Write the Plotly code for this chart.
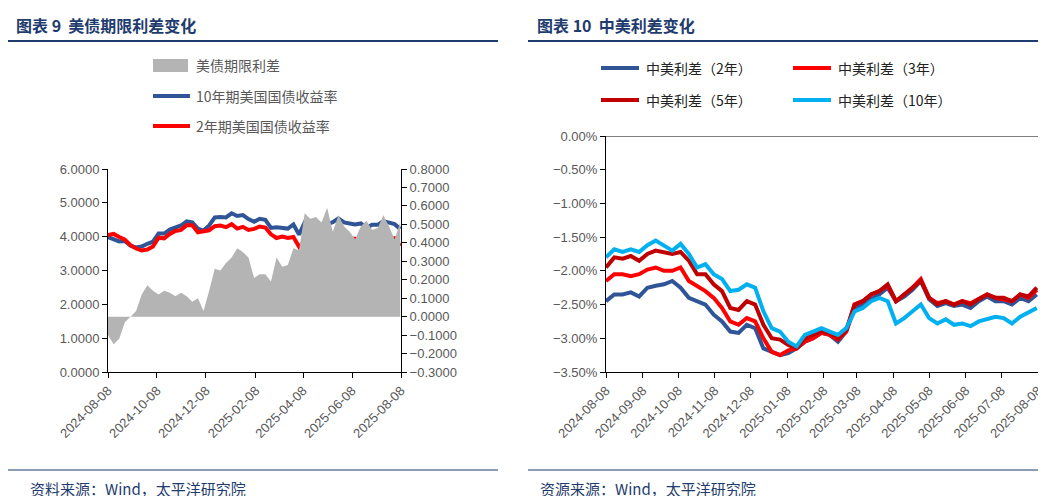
import pandas as pd
import plotly.graph_objects as go

dates = pd.date_range("2024-08-08", periods=53, freq="7D")
us10 = [3.99,3.91,3.86,3.87,3.73,3.68,3.71,3.79,3.85,4.09,4.09,4.21,4.28,4.33,4.45,4.42,4.24,4.18,4.33,4.57,4.58,4.57,4.69,4.61,4.64,4.52,4.44,4.53,4.50,4.26,4.28,4.27,4.24,4.36,4.06,4.42,4.33,4.32,4.22,4.37,4.43,4.54,4.42,4.39,4.36,4.39,4.26,4.35,4.35,4.46,4.40,4.37,4.23]
us2 = [4.05,4.08,3.99,3.91,3.75,3.65,3.59,3.62,3.71,3.97,3.95,4.08,4.17,4.20,4.34,4.34,4.13,4.15,4.19,4.31,4.33,4.28,4.37,4.24,4.29,4.20,4.23,4.30,4.27,4.07,3.96,4.00,3.96,3.99,3.70,3.86,3.80,3.78,3.71,3.78,3.97,3.99,3.93,3.93,3.94,3.90,3.74,3.88,3.87,3.91,3.91,3.95,3.72]
term_spread = [-0.10,-0.15,-0.12,-0.03,0.0,0.03,0.12,0.17,0.14,0.12,0.14,0.13,0.11,0.13,0.11,0.08,0.10,0.03,0.14,0.26,0.25,0.29,0.32,0.37,0.35,0.32,0.21,0.23,0.23,0.19,0.32,0.27,0.28,0.37,0.36,0.56,0.53,0.54,0.51,0.59,0.46,0.55,0.49,0.46,0.42,0.49,0.52,0.47,0.48,0.55,0.49,0.42,0.51]

cn_us10 = [-1.80,-1.68,-1.72,-1.68,-1.72,-1.62,-1.55,-1.62,-1.70,-1.60,-1.75,-1.95,-1.90,-2.05,-2.12,-2.30,-2.28,-2.20,-2.25,-2.60,-2.85,-2.90,-3.05,-3.12,-2.95,-2.90,-2.85,-2.90,-2.95,-2.85,-2.60,-2.55,-2.45,-2.40,-2.45,-2.78,-2.70,-2.60,-2.50,-2.70,-2.78,-2.72,-2.80,-2.78,-2.82,-2.75,-2.72,-2.68,-2.70,-2.78,-2.68,-2.62,-2.55]
cn_us5 = [-1.95,-1.80,-1.82,-1.78,-1.85,-1.75,-1.70,-1.72,-1.75,-1.72,-1.85,-2.05,-2.05,-2.20,-2.30,-2.55,-2.58,-2.45,-2.50,-2.80,-3.00,-3.02,-3.10,-3.15,-3.00,-2.95,-2.90,-2.92,-3.00,-2.88,-2.50,-2.45,-2.35,-2.30,-2.20,-2.45,-2.35,-2.25,-2.15,-2.40,-2.50,-2.45,-2.50,-2.45,-2.50,-2.42,-2.35,-2.40,-2.40,-2.45,-2.35,-2.38,-2.25]
cn_us3 = [-2.15,-2.05,-2.05,-2.08,-2.05,-1.98,-1.95,-2.00,-2.00,-1.95,-2.15,-2.22,-2.30,-2.40,-2.55,-2.75,-2.80,-2.70,-2.75,-3.00,-3.20,-3.25,-3.18,-3.15,-3.05,-3.00,-2.92,-2.95,-3.02,-2.90,-2.50,-2.45,-2.35,-2.30,-2.22,-2.45,-2.35,-2.25,-2.12,-2.40,-2.48,-2.45,-2.50,-2.45,-2.48,-2.42,-2.35,-2.40,-2.42,-2.45,-2.35,-2.40,-2.28]
cn_us2 = [-2.45,-2.35,-2.35,-2.32,-2.38,-2.25,-2.22,-2.20,-2.15,-2.25,-2.40,-2.45,-2.50,-2.65,-2.75,-2.90,-2.92,-2.80,-2.85,-3.15,-3.20,-3.25,-3.22,-3.15,-3.05,-3.00,-2.92,-2.95,-3.05,-2.90,-2.55,-2.50,-2.42,-2.35,-2.25,-2.45,-2.38,-2.28,-2.15,-2.42,-2.52,-2.48,-2.52,-2.50,-2.55,-2.45,-2.38,-2.45,-2.45,-2.50,-2.40,-2.45,-2.35]

left_ticks = ["2024-08-08","2024-10-08","2024-12-08","2025-02-08","2025-04-08","2025-06-08","2025-08-08"]
right_ticks = ["2024-08-08","2024-09-08","2024-10-08","2024-11-08","2024-12-08","2025-01-08","2025-02-08",
               "2025-03-08","2025-04-08","2025-05-08","2025-06-08","2025-07-08","2025-08-08"]

W, H = 1046, 496
def px(x): return x / W
def py(y): return 1 - y / H

FONT = "Noto Sans CJK SC"
TC = "#595959"
fig = go.Figure()
fig.add_trace(go.Scatter(x=dates, y=term_spread, name="美债期限利差", fill="tozeroy", mode="none",
                         fillcolor="#B4B4B4", xaxis="x", yaxis="y2"))
fig.add_trace(go.Scatter(x=dates, y=us10, name="10年期美国国债收益率", mode="lines",
                         line=dict(color="#2F5597", width=4), xaxis="x", yaxis="y"))
fig.add_trace(go.Scatter(x=dates, y=us2, name="2年期美国国债收益率", mode="lines",
                         line=dict(color="#FF0000", width=4), xaxis="x", yaxis="y"))

right_series = [("中美利差（2年）", cn_us2, "#2F5597"), ("中美利差（3年）", cn_us3, "#FF0000"),
                ("中美利差（5年）", cn_us5, "#C00000"), ("中美利差（10年）", cn_us10, "#00B0F0")]
for name, vals, col in right_series:
    fig.add_trace(go.Scatter(x=dates, y=vals, name=name, mode="lines", line=dict(color=col, width=4),
                             xaxis="x2", yaxis="y3"))

ax = dict(showline=True, linecolor="#000", linewidth=1, ticks="outside", ticklen=5, tickcolor="#000",
          showgrid=False, zeroline=False, automargin=False,
          tickfont=dict(color=TC, size=13, family="Liberation Sans"))
fig.update_layout(
    width=W, height=H, margin=dict(l=0, r=0, t=0, b=0), plot_bgcolor="white", paper_bgcolor="white",
    font=dict(family=FONT), showlegend=False,
    xaxis=dict(ax, domain=[px(100), px(393)], range=["2024-08-08", "2025-08-08"], tickvals=left_ticks,
               tickformat="%Y-%m-%d", tickangle=-45, anchor="y"),
    yaxis=dict(ax, domain=[py(364), py(161)], range=[0, 6], dtick=1, tickformat=".4f", anchor="x"),
    yaxis2=dict(ax, domain=[py(364), py(161)], range=[-0.3, 0.8], dtick=0.1, tickformat=".4f",
                overlaying="y", side="right", anchor="x"),
    xaxis2=dict(ax, domain=[px(598), px(1030)], range=["2024-08-08", "2025-08-08"], tickvals=right_ticks,
                tickformat="%Y-%m-%d", tickangle=-45, anchor="y3"),
    yaxis3=dict(ax, domain=[py(364), py(128)], range=[-3.5, 0], dtick=0.5, tickformat=".2f", ticksuffix="%", anchor="x2"),
)
shapes = [
    dict(type="line", x0=0, x1=px(490), y0=py(33), y1=py(33), line=dict(color="#1F3C6E", width=2)),
    dict(type="line", x0=px(520), x1=px(1040), y0=py(33), y1=py(33), line=dict(color="#1F3C6E", width=2)),
    dict(type="line", x0=0, x1=px(490), y0=py(462), y1=py(462), line=dict(color="#1F3C6E", width=1)),
    dict(type="line", x0=px(520), x1=px(1040), y0=py(462), y1=py(462), line=dict(color="#1F3C6E", width=1)),
    # legend keys
    dict(type="rect", x0=px(145), x1=px(180), y0=py(64), y1=py(51), fillcolor="#B4B4B4", line=dict(width=0)),
    dict(type="line", x0=px(145), x1=px(182), y0=py(88), y1=py(88), line=dict(color="#2F5597", width=4)),
    dict(type="line", x0=px(145), x1=px(182), y0=py(118), y1=py(118), line=dict(color="#FF0000", width=4)),
]
for s in shapes:
    s.update(xref="paper", yref="paper")
shapes.append(dict(type="line", xref="x2 domain", yref="y3", x0=0, x1=1, y0=0, y1=0, line=dict(color="#000", width=1)))
ann = [
    dict(text="<b>图表 9  美债期限利差变化</b>", x=px(6), y=py(17), font=dict(size=16, color="#1F3C6E")),
    dict(text="<b>图表 10  中美利差变化</b>", x=px(527), y=py(17), font=dict(size=16, color="#1F3C6E")),
    dict(text="资料来源：Wind，太平洋研究院", x=px(20), y=py(480), font=dict(size=15, color="#1F3C6E")),
    dict(text="资源来源：Wind，太平洋研究院", x=px(530), y=py(480), font=dict(size=15, color="#1F3C6E")),
    dict(text="美债期限利差", x=px(186), y=py(57), font=dict(size=14, color=TC)),
    dict(text="10年期美国国债收益率", x=px(186), y=py(88), font=dict(size=14, color=TC)),
    dict(text="2年期美国国债收益率", x=px(186), y=py(118), font=dict(size=14, color=TC)),
]
pos = [(593, 60), (785, 60), (593, 92), (785, 92)]
for (name, _, col), (lx, ly) in zip(right_series, pos):
    shapes.append(dict(type="line", xref="paper", yref="paper", x0=px(lx), x1=px(lx + 38), y0=py(ly), y1=py(ly),
                       line=dict(color=col, width=4)))
    ann.append(dict(text=name, x=px(lx + 43), y=py(ly), font=dict(size=14, color="#222")))
fig.update_layout(shapes=shapes)
for a in ann:
    fig.add_annotation(xref="paper", yref="paper", xanchor="left", yanchor="middle", showarrow=False, **a)
fig.write_html("out.html")
